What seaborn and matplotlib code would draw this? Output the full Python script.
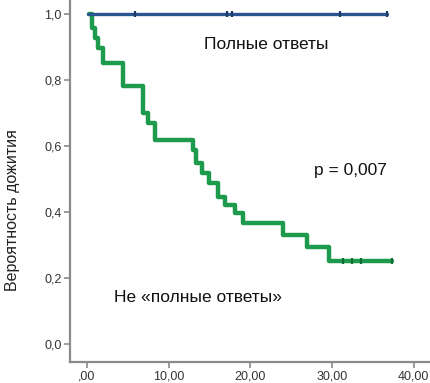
import matplotlib
matplotlib.use("Agg")
import matplotlib.pyplot as plt
import seaborn as sns
import pandas as pd

# Kaplan-Meier step data (time, survival)
cr_time = [0.1, 36.7]
cr_surv = [1.0, 1.0]
cr_cens_time = [5.9, 17.1, 17.8, 31.0, 36.7]

ncr_time = [0.25, 0.6, 1.0, 1.35, 2.0, 4.4, 6.85, 7.5, 8.3, 13.0, 13.3, 14.1,
            15.0, 16.0, 16.9, 18.1, 19.1, 24.0, 27.0, 29.6, 37.4]
ncr_surv = [1.0, 0.958, 0.927, 0.897, 0.852, 0.782, 0.700, 0.670, 0.618, 0.588,
            0.548, 0.518, 0.488, 0.445, 0.421, 0.397, 0.367, 0.330, 0.294, 0.252, 0.252]
ncr_cens_time = [31.3, 32.4, 33.6, 37.4]

y_ticks = [0.0, 0.2, 0.4, 0.6, 0.8, 1.0]
y_labels = ["0,0", "0,2", "0,4", "0,6", "0,8", "1,0"]
x_ticks = [0, 10, 20, 30, 40]
x_labels = [",00", "10,00", "20,00", "30,00", "40,00"]

blue = "#2a5591"
green = "#1d9a4c"

sns.set_style("white")
plt.rcParams["font.family"] = ["Liberation Sans", "DejaVu Sans"]

fig = plt.figure(figsize=(4.3, 3.83), dpi=100)
ax = fig.add_axes([70 / 430, 21 / 383, 360 / 430, 362 / 383])

df_cr = pd.DataFrame({"t": cr_time, "s": cr_surv})
df_ncr = pd.DataFrame({"t": ncr_time, "s": ncr_surv})

sns.lineplot(data=df_ncr, x="t", y="s", ax=ax, color=green, lw=3.2,
             drawstyle="steps-post", estimator=None, sort=False)
sns.lineplot(data=df_cr, x="t", y="s", ax=ax, color=blue, lw=2.4,
             drawstyle="steps-post", estimator=None, sort=False)

sns.scatterplot(x=cr_cens_time, y=[1.0] * len(cr_cens_time), ax=ax, marker="|",
                s=22, linewidth=1.6, color="#1d3a66", zorder=5)
sns.scatterplot(x=ncr_cens_time, y=[ncr_surv[-1]] * len(ncr_cens_time), ax=ax,
                marker="|", s=22, linewidth=1.6, color="#156b3a", zorder=5)

ax.set_xlim(-2.08, 42.0)
ax.set_ylim(-0.0545, 1.042)
ax.set_xticks(x_ticks)
ax.set_xticklabels(x_labels)
ax.set_yticks(y_ticks)
ax.set_yticklabels(y_labels)

for side in ["top", "right"]:
    ax.spines[side].set_visible(False)
for side in ["left", "bottom"]:
    ax.spines[side].set_color("#8a8a8a")
    ax.spines[side].set_linewidth(1.6)

ax.tick_params(axis="both", which="major", direction="out", length=4, width=1.2,
               color="#8a8a8a", labelsize=9, labelcolor="#333333", pad=2,
               left=True, bottom=True)

ax.set_xlabel("")
ax.set_ylabel("Вероятность дожития", fontsize=11.5, color="#222222")
ax.yaxis.set_label_coords(-0.14, 0.42)

ax.text(22.0, 0.906, "Полные ответы", fontsize=12.5, color="#111111",
        ha="center", va="center")
ax.text(32.2, 0.527, "p = 0,007", fontsize=12.5, color="#111111",
        ha="center", va="center")
ax.text(13.6, 0.142, "Не «полные ответы»", fontsize=12.5, color="#111111",
        ha="center", va="center")

fig.savefig("out.png", dpi=100)
